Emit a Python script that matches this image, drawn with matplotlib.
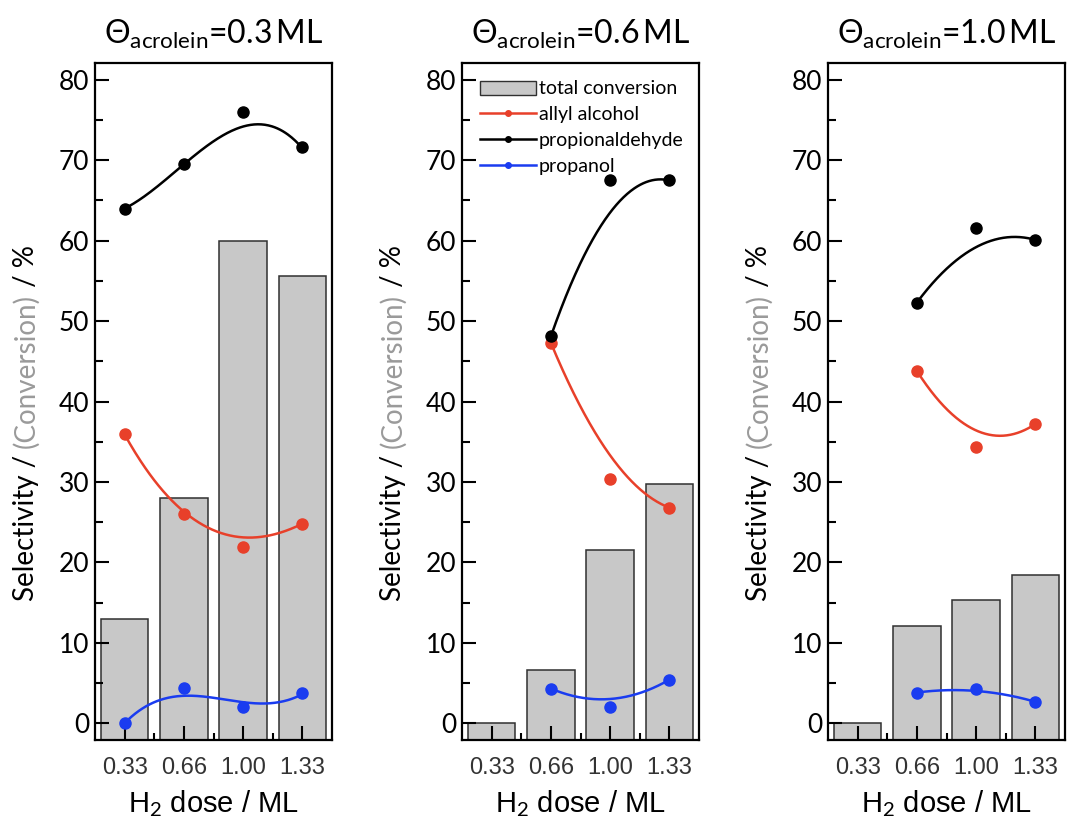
import numpy as np
import matplotlib
matplotlib.use("Agg")
import matplotlib.pyplot as plt
from matplotlib.lines import Line2D
from matplotlib.patches import Patch
from matplotlib.ticker import MultipleLocator, FixedLocator

plt.rcParams['font.family'] = ['Lato', 'DejaVu Sans']
plt.rcParams['mathtext.fontset'] = 'custom'
plt.rcParams['mathtext.rm'] = 'Lato'
plt.rcParams['mathtext.it'] = 'Lato:italic'

# data
doses = ["0.33", "0.66", "1.00", "1.33"]
coverages = ["0.3", "0.6", "1.0"]

conversion_03 = [13.0, 28.0, 60.0, 55.6]
conversion_06 = [0.0, 6.6, 21.5, 29.8]
conversion_10 = [0.0, 12.1, 15.3, 18.4]

# selectivity points (None = no measurement)
allyl_03 = [35.9, 26.0, 21.9, 24.8]
propanal_03 = [64.0, 69.5, 76.0, 71.6]
propanol_03 = [0.0, 4.4, 2.0, 3.7]

allyl_06 = [None, 47.3, 30.4, 26.8]
propanal_06 = [None, 48.1, 67.5, 67.5]
propanol_06 = [None, 4.3, 2.0, 5.4]

allyl_10 = [None, 43.8, 34.3, 37.2]
propanal_10 = [None, 52.3, 61.6, 60.1]
propanol_10 = [None, 3.8, 4.2, 2.65]

# values the smooth guide curves pass through at each dose
allyl_fit_03 = [35.9, 26.3, 23.1, 24.8]
propanal_fit_03 = [64.0, 69.5, 74.2, 71.5]
propanol_fit_03 = [0.0, 3.4, 2.6, 3.6]

allyl_fit_06 = [None, 47.3, 33.3, 26.8]
propanal_fit_06 = [None, 48.1, 63.5, 67.5]
propanol_fit_06 = [None, 4.3, 3.0, 5.4]

allyl_fit_10 = [None, 43.8, 36.4, 37.2]
propanal_fit_10 = [None, 52.3, 59.2, 60.1]
propanol_fit_10 = [None, 3.8, 4.0, 2.65]

RED = "#e8402a"
BLACK = "#000000"
BLUE = "#1a3cf0"
BAR = "#c8c8c8"
YMIN, YMAX = -2.1, 82.1

panels = [
    (coverages[0], conversion_03,
     [(allyl_03, allyl_fit_03, RED), (propanal_03, propanal_fit_03, BLACK), (propanol_03, propanol_fit_03, BLUE)]),
    (coverages[1], conversion_06,
     [(allyl_06, allyl_fit_06, RED), (propanal_06, propanal_fit_06, BLACK), (propanol_06, propanol_fit_06, BLUE)]),
    (coverages[2], conversion_10,
     [(allyl_10, allyl_fit_10, RED), (propanal_10, propanal_fit_10, BLACK), (propanol_10, propanol_fit_10, BLUE)]),
]

W, H = 1074, 831
fig = plt.figure(figsize=(W / 100, H / 100), dpi=100)
lefts = [95, 462, 828]

x = np.arange(len(doses))

for k, (cov, conv, series) in enumerate(panels):
    ax = fig.add_axes([lefts[k] / W, 91 / H, 237 / W, 677 / H])
    conv = np.array(conv)
    ax.bar(x, conv - YMIN, bottom=YMIN, width=0.8, color=BAR,
           edgecolor="#303030", linewidth=1.1, zorder=1)

    for pts, fit, col in series:
        idx = np.array([i for i, v in enumerate(pts) if v is not None])
        yp = np.array([pts[i] for i in idx])
        yf = np.array([fit[i] for i in idx])
        coef = np.polyfit(idx, yf, len(idx) - 1)
        xs = np.linspace(idx[0], idx[-1], 200)
        ax.plot(xs, np.polyval(coef, xs), color=col, lw=1.8, zorder=3)
        ax.plot(idx, yp, "o", color=col, ms=8, zorder=4, clip_on=False)

    ax.set_xlim(-0.5, 3.5)
    ax.set_ylim(YMIN, YMAX)
    ax.yaxis.set_major_locator(MultipleLocator(10))
    ax.yaxis.set_minor_locator(MultipleLocator(5))
    ax.xaxis.set_major_locator(FixedLocator(x))
    ax.xaxis.set_minor_locator(FixedLocator(x[:-1] + 0.5))
    ax.set_xticklabels(doses)
    ax.tick_params(axis="y", which="major", direction="in", length=10, width=1.5,
                   labelsize=19, pad=4, right=False)
    ax.tick_params(axis="y", which="minor", direction="in", length=6, width=1.5, right=False)
    ax.tick_params(axis="x", which="major", direction="in", length=10, width=1.5,
                   labelsize=17, pad=12, top=False, labelcolor="#333333")
    ax.tick_params(axis="x", which="minor", direction="in", length=5, width=1.5, top=False)
    for sp in ax.spines.values():
        sp.set_linewidth(1.6)
    for lab in ax.get_xticklabels():
        lab.set_fontfamily("Liberation Sans")

    ax.set_xlabel("H$_2$ dose / ML", fontsize=21, labelpad=7, family="Liberation Sans")
    ax.set_title(r"$\Theta_{\mathrm{acrolein}}$=" + cov + r"$\,$ML", fontsize=23, pad=14)

    # multi-coloured y label
    t1 = ax.text(-0.29, 0.205, "Selectivity / ", transform=ax.transAxes, rotation=90,
                 ha="center", va="bottom", fontsize=20)
    t2 = ax.annotate("(Conversion)", xy=(0.5, 1.0), xycoords=t1, rotation=90,
                     ha="center", va="bottom", fontsize=20, color="#9a9a9a")
    ax.annotate(" / %", xy=(0.5, 1.0), xycoords=t2, rotation=90,
                ha="center", va="bottom", fontsize=20)

    if k == 1:
        handles = [
            Patch(facecolor=BAR, edgecolor="#303030", linewidth=1.0),
            Line2D([], [], color=RED, lw=1.8, marker="o", ms=4),
            Line2D([], [], color=BLACK, lw=1.8, marker="o", ms=4),
            Line2D([], [], color=BLUE, lw=1.8, marker="o", ms=4),
        ]
        labels = ["total conversion", "allyl alcohol", "propionaldehyde", "propanol"]
        ax.legend(handles, labels, loc="upper left", bbox_to_anchor=(0.0, 1.0),
                  frameon=False, fontsize=14, handlelength=2.9, handletextpad=0.15,
                  labelspacing=0.45, borderaxespad=0.5)

fig.savefig("out.png", dpi=100)
